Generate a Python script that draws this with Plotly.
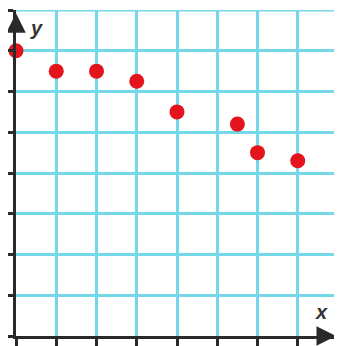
import plotly.graph_objects as go

# points (x 0..8, y 0..8)
x_vals = [0, 1, 2, 3, 4, 5.5, 6, 7]
y_vals = [7, 6.5, 6.5, 6.25, 5.5, 5.2, 4.5, 4.3]

grid_max = 8
grid_color = "#74d8e8"

fig = go.Figure()
fig.add_trace(go.Scatter(
    x=x_vals, y=y_vals, mode="markers",
    marker=dict(size=15, color="#e3141c"),
    cliponaxis=False, showlegend=False,
))

axis_style = dict(
    range=[0, grid_max], dtick=1, showgrid=True,
    gridcolor=grid_color, gridwidth=3,
    zeroline=False, showticklabels=False,
    showline=True, linecolor="#2a2a2a", linewidth=3,
    ticks="outside", ticklen=7, tickwidth=3, tickcolor="#2a2a2a",
    fixedrange=True,
)
fig.update_xaxes(**axis_style)
fig.update_yaxes(**axis_style)

# right and top border lines of the grid
fig.add_shape(type="line", x0=grid_max, x1=grid_max, y0=0, y1=grid_max,
              line=dict(color=grid_color, width=3), layer="below")
fig.add_shape(type="line", x0=0, x1=grid_max, y0=grid_max, y1=grid_max,
              line=dict(color=grid_color, width=3), layer="below")

# arrow heads on the axes
fig.add_annotation(x=0, y=7.92, ax=0, ay=7.6, xref="x", yref="y", axref="x", ayref="y",
                   text="", showarrow=True, arrowhead=2, arrowsize=1.3,
                   arrowwidth=3, arrowcolor="#2a2a2a")
fig.add_annotation(x=7.95, y=0, ax=7.6, ay=0, xref="x", yref="y", axref="x", ayref="y",
                   text="", showarrow=True, arrowhead=2, arrowsize=1.3,
                   arrowwidth=3, arrowcolor="#2a2a2a")

fig.add_annotation(x=0.5, y=7.55, xref="x", yref="y", text="<b><i>y</i></b>",
                   showarrow=False, font=dict(size=20, color="#333333", family="Liberation Sans"))
fig.add_annotation(x=7.6, y=0.6, xref="x", yref="y", text="<b><i>x</i></b>",
                   showarrow=False, font=dict(size=20, color="#333333", family="Liberation Sans"))

# the page body adds an 8px margin, so the figure is 8px smaller
fig.update_layout(
    width=334, height=338,
    margin=dict(l=8, r=4, t=2, b=10),
    paper_bgcolor="white", plot_bgcolor="white",
)

fig.write_html("out.html")
